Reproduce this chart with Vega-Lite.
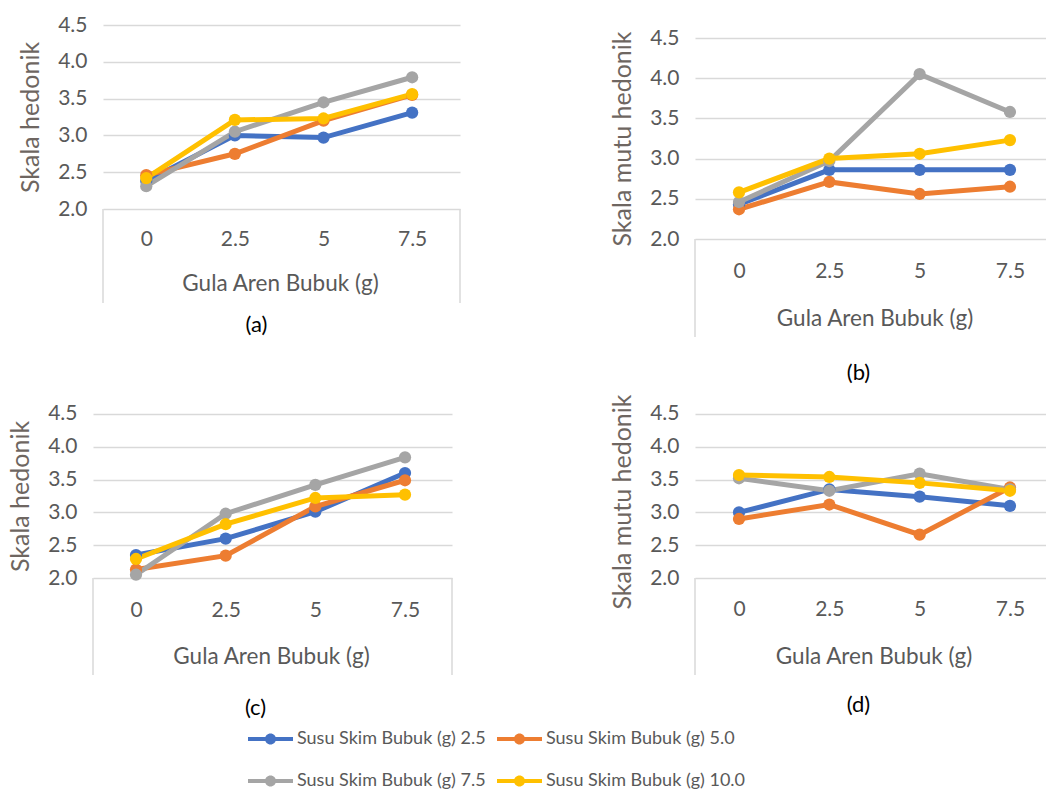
{
  "$schema": "https://vega.github.io/schema/vega-lite/v6.json",
  "padding": {"left": 8, "top": 14, "right": 0, "bottom": 0},
  "data": {"values": [
    {"p": "a", "g": 0, "s": "Susu Skim Bubuk (g) 2.5", "v": 2.38},
    {"p": "a", "g": 2.5, "s": "Susu Skim Bubuk (g) 2.5", "v": 3.0},
    {"p": "a", "g": 5, "s": "Susu Skim Bubuk (g) 2.5", "v": 2.97},
    {"p": "a", "g": 7.5, "s": "Susu Skim Bubuk (g) 2.5", "v": 3.31},
    {"p": "a", "g": 0, "s": "Susu Skim Bubuk (g) 5.0", "v": 2.46},
    {"p": "a", "g": 2.5, "s": "Susu Skim Bubuk (g) 5.0", "v": 2.75},
    {"p": "a", "g": 5, "s": "Susu Skim Bubuk (g) 5.0", "v": 3.2},
    {"p": "a", "g": 7.5, "s": "Susu Skim Bubuk (g) 5.0", "v": 3.55},
    {"p": "a", "g": 0, "s": "Susu Skim Bubuk (g) 7.5", "v": 2.31},
    {"p": "a", "g": 2.5, "s": "Susu Skim Bubuk (g) 7.5", "v": 3.05},
    {"p": "a", "g": 5, "s": "Susu Skim Bubuk (g) 7.5", "v": 3.45},
    {"p": "a", "g": 7.5, "s": "Susu Skim Bubuk (g) 7.5", "v": 3.79},
    {"p": "a", "g": 0, "s": "Susu Skim Bubuk (g) 10.0", "v": 2.42},
    {"p": "a", "g": 2.5, "s": "Susu Skim Bubuk (g) 10.0", "v": 3.21},
    {"p": "a", "g": 5, "s": "Susu Skim Bubuk (g) 10.0", "v": 3.23},
    {"p": "a", "g": 7.5, "s": "Susu Skim Bubuk (g) 10.0", "v": 3.56},

    {"p": "b", "g": 0, "s": "Susu Skim Bubuk (g) 2.5", "v": 2.43},
    {"p": "b", "g": 2.5, "s": "Susu Skim Bubuk (g) 2.5", "v": 2.86},
    {"p": "b", "g": 5, "s": "Susu Skim Bubuk (g) 2.5", "v": 2.86},
    {"p": "b", "g": 7.5, "s": "Susu Skim Bubuk (g) 2.5", "v": 2.86},
    {"p": "b", "g": 0, "s": "Susu Skim Bubuk (g) 5.0", "v": 2.37},
    {"p": "b", "g": 2.5, "s": "Susu Skim Bubuk (g) 5.0", "v": 2.71},
    {"p": "b", "g": 5, "s": "Susu Skim Bubuk (g) 5.0", "v": 2.56},
    {"p": "b", "g": 7.5, "s": "Susu Skim Bubuk (g) 5.0", "v": 2.65},
    {"p": "b", "g": 0, "s": "Susu Skim Bubuk (g) 7.5", "v": 2.46},
    {"p": "b", "g": 2.5, "s": "Susu Skim Bubuk (g) 7.5", "v": 2.97},
    {"p": "b", "g": 5, "s": "Susu Skim Bubuk (g) 7.5", "v": 4.05},
    {"p": "b", "g": 7.5, "s": "Susu Skim Bubuk (g) 7.5", "v": 3.58},
    {"p": "b", "g": 0, "s": "Susu Skim Bubuk (g) 10.0", "v": 2.58},
    {"p": "b", "g": 2.5, "s": "Susu Skim Bubuk (g) 10.0", "v": 3.0},
    {"p": "b", "g": 5, "s": "Susu Skim Bubuk (g) 10.0", "v": 3.06},
    {"p": "b", "g": 7.5, "s": "Susu Skim Bubuk (g) 10.0", "v": 3.23},

    {"p": "c", "g": 0, "s": "Susu Skim Bubuk (g) 2.5", "v": 2.35},
    {"p": "c", "g": 2.5, "s": "Susu Skim Bubuk (g) 2.5", "v": 2.6},
    {"p": "c", "g": 5, "s": "Susu Skim Bubuk (g) 2.5", "v": 3.01},
    {"p": "c", "g": 7.5, "s": "Susu Skim Bubuk (g) 2.5", "v": 3.6},
    {"p": "c", "g": 0, "s": "Susu Skim Bubuk (g) 5.0", "v": 2.13},
    {"p": "c", "g": 2.5, "s": "Susu Skim Bubuk (g) 5.0", "v": 2.34},
    {"p": "c", "g": 5, "s": "Susu Skim Bubuk (g) 5.0", "v": 3.09},
    {"p": "c", "g": 7.5, "s": "Susu Skim Bubuk (g) 5.0", "v": 3.49},
    {"p": "c", "g": 0, "s": "Susu Skim Bubuk (g) 7.5", "v": 2.05},
    {"p": "c", "g": 2.5, "s": "Susu Skim Bubuk (g) 7.5", "v": 2.98},
    {"p": "c", "g": 5, "s": "Susu Skim Bubuk (g) 7.5", "v": 3.42},
    {"p": "c", "g": 7.5, "s": "Susu Skim Bubuk (g) 7.5", "v": 3.84},
    {"p": "c", "g": 0, "s": "Susu Skim Bubuk (g) 10.0", "v": 2.29},
    {"p": "c", "g": 2.5, "s": "Susu Skim Bubuk (g) 10.0", "v": 2.82},
    {"p": "c", "g": 5, "s": "Susu Skim Bubuk (g) 10.0", "v": 3.22},
    {"p": "c", "g": 7.5, "s": "Susu Skim Bubuk (g) 10.0", "v": 3.27},

    {"p": "d", "g": 0, "s": "Susu Skim Bubuk (g) 2.5", "v": 3.0},
    {"p": "d", "g": 2.5, "s": "Susu Skim Bubuk (g) 2.5", "v": 3.35},
    {"p": "d", "g": 5, "s": "Susu Skim Bubuk (g) 2.5", "v": 3.24},
    {"p": "d", "g": 7.5, "s": "Susu Skim Bubuk (g) 2.5", "v": 3.1},
    {"p": "d", "g": 0, "s": "Susu Skim Bubuk (g) 5.0", "v": 2.9},
    {"p": "d", "g": 2.5, "s": "Susu Skim Bubuk (g) 5.0", "v": 3.12},
    {"p": "d", "g": 5, "s": "Susu Skim Bubuk (g) 5.0", "v": 2.66},
    {"p": "d", "g": 7.5, "s": "Susu Skim Bubuk (g) 5.0", "v": 3.38},
    {"p": "d", "g": 0, "s": "Susu Skim Bubuk (g) 7.5", "v": 3.52},
    {"p": "d", "g": 2.5, "s": "Susu Skim Bubuk (g) 7.5", "v": 3.33},
    {"p": "d", "g": 5, "s": "Susu Skim Bubuk (g) 7.5", "v": 3.59},
    {"p": "d", "g": 7.5, "s": "Susu Skim Bubuk (g) 7.5", "v": 3.35},
    {"p": "d", "g": 0, "s": "Susu Skim Bubuk (g) 10.0", "v": 3.57},
    {"p": "d", "g": 2.5, "s": "Susu Skim Bubuk (g) 10.0", "v": 3.54},
    {"p": "d", "g": 5, "s": "Susu Skim Bubuk (g) 10.0", "v": 3.45},
    {"p": "d", "g": 7.5, "s": "Susu Skim Bubuk (g) 10.0", "v": 3.33}
  ]},
  "spacing": 0,
  "vconcat": [
    {
      "spacing": 148,
      "hconcat": [
        {
          "width": 367, "height": 184,
          "title": {"text": "(a)", "orient": "bottom", "anchor": "middle", "frame": "group", "baseline": "top", "dx": -20, "offset": 11},
          "layer": [
            {"data": {"values": [{}]}, "mark": {"type": "rule", "color": "#d9d9d9", "strokeWidth": 1.5},
             "encoding": {"x": {"datum": -1.22, "type": "quantitative"}, "y": {"datum": 2, "type": "quantitative"}, "y2": {"datum": 0.723}}},
            {"data": {"values": [{}]}, "mark": {"type": "rule", "color": "#d9d9d9", "strokeWidth": 1.5},
             "encoding": {"x": {"datum": 8.85, "type": "quantitative"}, "y": {"datum": 2, "type": "quantitative"}, "y2": {"datum": 0.723}}},
            {"transform": [{"filter": "datum.p === 'a'"}],
             "mark": {"type": "line", "strokeWidth": 5, "point": {"filled": true, "size": 150}},
             "encoding": {
               "x": {"field": "g", "type": "quantitative", "scale": {"domain": [-1.502, 8.85], "nice": false, "zero": false},
                     "axis": {"title": "Gula Aren Bubuk (g)", "values": [0, 2.5, 5, 7.5], "tickCount": 20, "labelExpr": "'' + datum.value", "labelOverlap": false, "labelPadding": 30.5, "titleX": 187, "titleY": 74.6}},
               "y": {"field": "v", "type": "quantitative", "scale": {"domain": [2, 4.5], "nice": false, "zero": false},
                     "axis": {"title": "Skala hedonik", "offset": -10, "gridDash": [0, 10, 1000, 0], "values": [2, 2.5, 3, 3.5, 4, 4.5], "tickCount": 20, "format": ".1f", "labelOverlap": false, "titleY": 92}},
               "color": {"field": "s", "type": "nominal",
                         "scale": {"domain": ["Susu Skim Bubuk (g) 2.5", "Susu Skim Bubuk (g) 5.0", "Susu Skim Bubuk (g) 7.5", "Susu Skim Bubuk (g) 10.0"], "range": ["#4472C4", "#ED7D31", "#A5A5A5", "#FFC000"]},
                         "legend": {"orient": "none", "legendX": 155, "legendY": 705, "columns": 2, "direction": "horizontal", "title": null}}
             }}
          ]
        },
        {
          "width": 352, "height": 214,
          "title": {"text": "(b)", "orient": "bottom", "anchor": "middle", "frame": "group", "baseline": "top", "dx": -12.5, "offset": 25},
          "layer": [
            {"data": {"values": [{}]}, "mark": {"type": "rule", "color": "#d9d9d9", "strokeWidth": 1.5},
             "encoding": {"x": {"datum": -1.218, "type": "quantitative"}, "y": {"datum": 2, "type": "quantitative"}, "y2": {"datum": 0.781}}},
            {"transform": [{"filter": "datum.p === 'b'"}],
             "mark": {"type": "line", "strokeWidth": 5, "point": {"filled": true, "size": 150}},
             "encoding": {
               "x": {"field": "g", "type": "quantitative", "scale": {"domain": [-1.218, 8.525], "nice": false, "zero": false},
                     "axis": {"title": "Gula Aren Bubuk (g)", "values": [0, 2.5, 5, 7.5], "tickCount": 20, "labelExpr": "'' + datum.value", "labelOverlap": false, "labelPadding": 32, "titleX": 179.5, "titleY": 79}},
               "y": {"field": "v", "type": "quantitative", "scale": {"domain": [2, 4.6617], "nice": false, "zero": false},
                     "axis": {"title": "Skala mutu hedonik", "values": [2, 2.5, 3, 3.5, 4, 4.5], "tickCount": 20, "format": ".1f", "labelOverlap": false, "titleY": 113.5}},
               "color": {"field": "s", "type": "nominal", "legend": {"orient": "none", "legendX": 155, "legendY": 705, "columns": 2, "direction": "horizontal", "title": null}}
             }}
          ]
        }
      ]
    },
    {
      "spacing": 156,
      "hconcat": [
        {
          "width": 359, "height": 194,
          "title": {"text": "(c)", "orient": "bottom", "anchor": "middle", "frame": "group", "baseline": "top", "dx": -17, "offset": 22},
          "layer": [
            {"data": {"values": [{}]}, "mark": {"type": "rule", "color": "#d9d9d9", "strokeWidth": 1.5},
             "encoding": {"x": {"datum": -1.199, "type": "quantitative"}, "y": {"datum": 2, "type": "quantitative"}, "y2": {"datum": 0.521}}},
            {"data": {"values": [{}]}, "mark": {"type": "rule", "color": "#d9d9d9", "strokeWidth": 1.5},
             "encoding": {"x": {"datum": 8.81, "type": "quantitative"}, "y": {"datum": 2, "type": "quantitative"}, "y2": {"datum": 0.521}}},
            {"transform": [{"filter": "datum.p === 'c'"}],
             "mark": {"type": "line", "strokeWidth": 5, "point": {"filled": true, "size": 150}},
             "encoding": {
               "x": {"field": "g", "type": "quantitative", "scale": {"domain": [-1.199, 8.81], "nice": false, "zero": false},
                     "axis": {"title": "Gula Aren Bubuk (g)", "values": [0, 2.5, 5, 7.5], "tickCount": 20, "labelExpr": "'' + datum.value", "labelOverlap": false, "labelPadding": 32, "titleX": 178, "titleY": 78.3}},
               "y": {"field": "v", "type": "quantitative", "scale": {"domain": [2, 4.9573], "nice": false, "zero": false},
                     "axis": {"title": "Skala hedonik", "values": [2, 2.5, 3, 3.5, 4, 4.5], "tickCount": 20, "format": ".1f", "labelOverlap": false, "titleY": 112}},
               "color": {"field": "s", "type": "nominal", "legend": {"orient": "none", "legendX": 155, "legendY": 705, "columns": 2, "direction": "horizontal", "title": null}}
             }}
          ]
        },
        {
          "width": 352, "height": 194,
          "title": {"text": "(d)", "orient": "bottom", "anchor": "middle", "frame": "group", "baseline": "top", "dx": -12.5, "offset": 19},
          "layer": [
            {"data": {"values": [{}]}, "mark": {"type": "rule", "color": "#d9d9d9", "strokeWidth": 1.5},
             "encoding": {"x": {"datum": -1.218, "type": "quantitative"}, "y": {"datum": 2, "type": "quantitative"}, "y2": {"datum": 0.521}}},
            {"transform": [{"filter": "datum.p === 'd'"}],
             "mark": {"type": "line", "strokeWidth": 5, "point": {"filled": true, "size": 150}},
             "encoding": {
               "x": {"field": "g", "type": "quantitative", "scale": {"domain": [-1.218, 8.525], "nice": false, "zero": false},
                     "axis": {"title": "Gula Aren Bubuk (g)", "values": [0, 2.5, 5, 7.5], "tickCount": 20, "labelExpr": "'' + datum.value", "labelOverlap": false, "labelPadding": 31.5, "titleX": 178.5, "titleY": 78}},
               "y": {"field": "v", "type": "quantitative", "scale": {"domain": [2, 4.9573], "nice": false, "zero": false},
                     "axis": {"title": "Skala mutu hedonik", "values": [2, 2.5, 3, 3.5, 4, 4.5], "tickCount": 20, "format": ".1f", "labelOverlap": false, "titleY": 117.5}},
               "color": {"field": "s", "type": "nominal", "legend": {"orient": "none", "legendX": 155, "legendY": 705, "columns": 2, "direction": "horizontal", "title": null}}
             }}
          ]
        }
      ]
    }
  ],
  "config": {
    "view": {"stroke": null},
    "font": "Lato",
    "axis": {"domain": false, "ticks": false, "tickSize": 0, "labelFont": "Lato", "labelFontSize": 21, "labelColor": "#595959",
             "titleFont": "Lato", "titleFontWeight": "normal", "titleColor": "#595959", "gridColor": "#d9d9d9", "gridWidth": 1.5,
             "labelOverlap": false, "labelFlush": false},
    "axisX": {"grid": false, "labelAngle": 0, "labelBaseline": "middle", "titleFontSize": 22.5, "titleBaseline": "middle", "titleAlign": "center"},
    "axisY": {"grid": true, "labelPadding": 16, "labelBaseline": "middle", "labelAlign": "right", "titleFontSize": 25, "titleAngle": 270,
              "titleBaseline": "bottom", "titleAlign": "center", "titleX": -60, "titleColor": "#6e6661"},
    "title": {"font": "Lato", "fontSize": 22, "fontWeight": "normal", "color": "#000000"},
    "legend": {"padding": 0, "offset": 0, "labelFont": "Lato", "labelFontSize": 18, "labelColor": "#595959", "labelLimit": 0,
               "labelOffset": 31, "rowPadding": 24, "columnPadding": 11, "symbolSize": 324, "symbolStrokeWidth": 0,
               "symbolType": "M-1,-0.222H4V0.222H-1Z M0.889,0A0.611,0.611 0 1,1 2.111,0A0.611,0.611 0 1,1 0.889,0Z"}
  }
}
